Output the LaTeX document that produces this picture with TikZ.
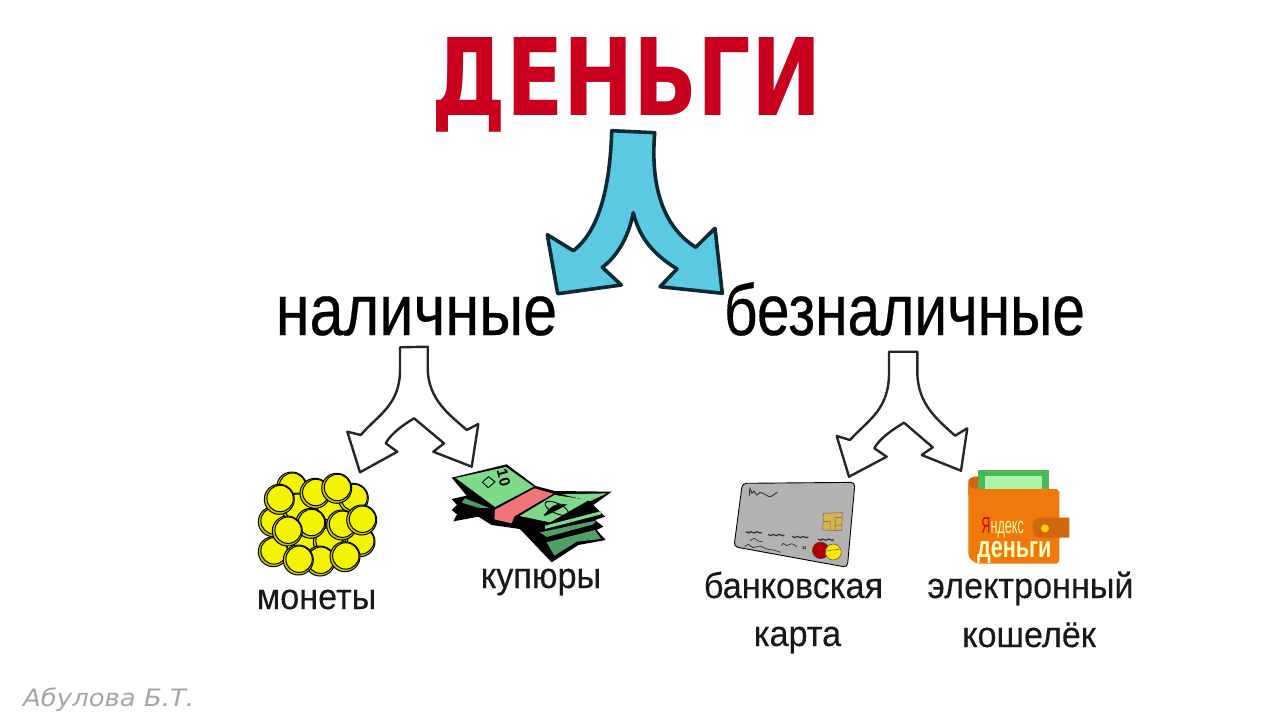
\documentclass[tikz,border=0pt]{standalone}
\usepackage{fontspec}
\setmainfont{Liberation Sans}
\newfontfamily\authorfont{DejaVu Sans}
\newfontfamily\titlefont{DejaVu Sans Bold}
\newfontfamily\wordfont[FakeBold=0.4]{Liberation Sans}
\newfontfamily\smallwordfont[FakeBold=0.2]{Liberation Sans}
\definecolor{titlered}{HTML}{C8001E}
\definecolor{arrowblue}{HTML}{5CC9E3}
\definecolor{arrowdark}{HTML}{0C2A33}
\definecolor{coinyellow}{HTML}{F4F400}
\definecolor{coinedge}{HTML}{C9C900}
\definecolor{billgreen}{HTML}{7FD98A}
\definecolor{billdark}{HTML}{4F9F66}
\definecolor{bandpink}{HTML}{F0747A}
\definecolor{cardgray}{HTML}{B4B2B1}
\definecolor{chipgold}{HTML}{D8B44E}
\definecolor{walletorange}{HTML}{F0790C}
\definecolor{tabbrown}{HTML}{D0660E}
\definecolor{notegreen}{HTML}{4CB85A}
\definecolor{notelight}{HTML}{AAF5AA}
\tikzset{
  bigword/.style={anchor=base,inner sep=0pt,font=\wordfont\fontsize{72}{72}\selectfont,text=black},
  smallword/.style={anchor=base,inner sep=0pt,font=\smallwordfont\fontsize{36}{36}\selectfont,text=black!90},
  plainarrow/.style={draw=black!85,fill=white,line width=2.4pt,line join=round},
  coin/.style={draw=black,line width=1pt},
  scribble/.style={draw=black!80,line width=0.7pt}
}
\newcommand{\coinat}[2]{%
  \draw[coin,fill=coinedge] (#1,#2) circle (15);
  \draw[coin,fill=coinyellow] (#1+0.8,#2-0.8) circle (13.2);
}
\begin{document}
\begin{tikzpicture}[x=1pt,y=-1pt]
  \useasboundingbox[fill=white] (0,0) rectangle (1280,720);
  % words
  \node[inner sep=0pt,anchor=base,text=titlered,font=\titlefont\fontsize{107}{107}\selectfont,xscale=0.785] (title) at (626.5,115) {ДЕНЬГИ};
  \node[bigword,xscale=0.85] (cash) at (416.5,335) {наличные};
  \node[bigword,xscale=0.815] (noncash) at (904.5,335) {безналичные};
  \node[smallword,xscale=0.95] (coins) at (316.5,609) {монеты};
  \node[smallword,xscale=0.95] (notes) at (541,588) {купюры};
  \node[smallword,xscale=0.95] (bankcard) at (793.5,598) {банковская};
  \node[smallword,xscale=0.95] (cardtwo) at (797.5,646) {карта};
  \node[smallword,xscale=0.95] (wallettext) at (1030.5,598) {электронный};
  \node[smallword,xscale=0.95] (wallettwo) at (1029,647) {кошелёк};
  \node[inner sep=0pt,anchor=base west,text=black!35,font=\authorfont\itshape\fontsize{24}{24}\selectfont,xscale=1.08] (author) at (23,706) {Абулова Б.Т.};

  % arrows
  \draw[draw=arrowdark,fill=arrowblue,line width=3.6pt,line join=round] (611.7,130.7) -- (654.7,132.7)
    .. controls (650,190) and (665,228) .. (695.7,247.3) -- (715,228.3) -- (722.3,293.3) -- (660,286.7) -- (677,269)
    .. controls (655,255) and (640,240) .. (633.3,212.7) .. controls (628,240) and (615,258) .. (602.3,267.3)
    -- (621.3,285) -- (557.7,293.7) -- (547.3,234.7) -- (573.3,250.7) .. controls (598,232) and (610,190) .. cycle;
  \draw[plainarrow] (400,347.3) -- (427.7,346.7) -- (427.7,368) .. controls (428,400) and (450,415) .. (466.7,430)
    -- (478.3,424) -- (471.7,466.7) -- (433.3,451.7) -- (444,443.3) -- (414,418.3)
    .. controls (405,424) and (392,432) .. (385.7,443.3) -- (397.3,451.7) -- (360,472.3) -- (347.3,431.7) -- (360.7,435)
    .. controls (378,415) and (400,405) .. (400,370) -- cycle;
  \draw[plainarrow] (889,351.7) -- (917.3,351.7) -- (917.3,373) .. controls (918,405) and (938,420) .. (955,435.7)
    -- (967.3,428.3) -- (961,470.7) -- (921.7,455) -- (932.7,447.3) -- (904,422.7)
    .. controls (892,430) and (880,438) .. (874.3,448.3) -- (886.7,456.7) -- (849,476.7) -- (836.7,436) -- (850,440)
    .. controls (868,420) and (889,410) .. (889,373) -- cycle;

  % coins
  \foreach \cx/\cy in {291.7/487,273.3/521.7,330/508,296.7/508,353.3/498.3,315/493.3,279.3/499.3,336.7/488.3,
      360/541.7,273.3/551.7,306.7/543,328.3/541.7,310.7/523.3,341.7/525,361.7/520,287.3/531,320/561,298.3/560,345/556.7}
    {\coinat{\cx}{\cy}}

  % banknotes
  \begin{scope}[shift={(445,455)},scale=1/3]
    \fill[black] (20,68) -- (185,28) -- (272,93) -- (330,108) -- (500,110) -- (445,150) -- (480,185) -- (450,195)
      -- (475,215) -- (455,225) -- (482,255) -- (400,270) -- (320,322) -- (225,222) -- (140,210) -- (100,185)
      -- (25,199) -- (36,178) -- (20,165) -- (36,150) -- (20,132) -- (65,122) -- cycle;
    \fill[billdark] (60,130) -- (110,150) -- (135,160) -- (100,158) -- (50,143) -- cycle;
    \fill[billgreen] (300,212) -- (470,168) -- (468,178) -- (300,222) -- cycle;
    \fill[billdark] (285,232) -- (455,196) -- (445,208) -- (305,246) -- cycle;
    \fill[billdark] (305,262) -- (450,225) -- (468,252) -- (395,260) -- (328,302) -- cycle;
    \fill[billgreen] (32,69) -- (183,36) -- (266,95) -- (150,156) -- cycle;
    \fill[bandpink] (150,164) -- (268,100) -- (325,116) -- (208,184) -- (200,205) -- (148,193) -- cycle;
    \fill[billgreen] (224,183) -- (328,120) -- (432,135) -- (315,202) -- cycle;
    \fill[billgreen] (350,118) -- (486,115) -- (436,138) -- cycle;
    \draw[black,line width=0.9pt,fill=billgreen] (112,82) -- (130,65) -- (150,80) -- (130,98) -- cycle;
    \node[inner sep=0pt,rotate=-75,text=black,font=\fontsize{15}{15}\selectfont\bfseries] (billten) at (176,68) {10};
    \draw[black,line width=0.9pt,rotate around={-25:(335,160)}] (335,160) ellipse (38 and 15);
    \draw[black,line width=1.4pt,fill=black] (300,180) .. controls (320,150) and (345,145) .. (360,150) .. controls (345,158) and (325,170) .. cycle;
  \end{scope}

  % card
  \begin{scope}[shift={(730,475)},scale=1/3]
    \draw[fill=cardgray,draw=black,line width=0.9pt,rounded corners=4pt] (37,25) -- (375,22) -- (352,277) -- (12,215) -- cycle;
    \draw[scribble,line width=0.9pt] plot[smooth] coordinates {(58,62) (60,40) (66,55) (72,48) (80,60) (90,52) (105,58) (120,65) (142,52)};
    \fill[chipgold] (280,115) -- (337,113) -- (335,167) -- (278,165) -- cycle;
    \draw[black!60,line width=0.5pt] (280,115) -- (337,113) -- (335,167) -- (278,165) -- cycle (280,140) -- (300,140) -- (300,165) (337,128) -- (315,128) -- (315,165) (337,150) -- (315,150);
    \foreach \sx/\sy in {48/170,115/178,187/184,264/192}
      \draw[scribble,line width=1.2pt] plot[smooth] coordinates {(\sx,\sy) (\sx+8,\sy+4) (\sx+14,\sy) (\sx+24,\sy+4) (\sx+32,\sy) (\sx+42,\sy+4) (\sx+48,\sy+2)};
    \draw[scribble] plot[smooth] coordinates {(60,197) (72,190) (85,198) (97,200)};
    \draw[scribble] plot[smooth] coordinates {(45,215) (55,208) (70,218) (90,213) (110,222) (130,225) (152,232)};
    \draw[scribble] plot[smooth] coordinates {(155,212) (160,205) (170,212) (185,206) (200,215)};
    \draw[scribble] (218,214) -- (228,222) (228,214) -- (218,222);
    \draw[fill=red!70!black,draw=black!70,line width=0.5pt] (272,226) circle (25);
    \draw[fill=yellow!90!orange,draw=black!70,line width=0.5pt] (310,231) circle (24);
    \draw[black!70,line width=0.5pt] (290,228) -- (330,222);
  \end{scope}

  % wallet
  \begin{scope}[shift={(960,465)},scale=1/3]
    \fill[tabbrown] (25,50) .. controls (25,40) and (35,34) .. (60,34) -- (60,90) -- (25,90) -- cycle;
    \fill[notegreen] (55,15) rectangle (268,80);
    \fill[notelight] (75,33) rectangle (247,80);
    \fill[walletorange] (25,55) .. controls (27,68) and (40,72) .. (55,72) -- (290,72) -- (298,80) -- (298,288) -- (290,296) -- (62,296) .. controls (40,296) and (25,280) .. (25,265) -- cycle;
    \fill[tabbrown] (240,158) -- (328,158) -- (328,218) -- (240,218) .. controls (210,218) and (210,158) .. (240,158) -- cycle;
    \fill[yellow!70!orange] (255,190) circle (12);
    \node[inner sep=0pt,anchor=base,text=yellow!35!white,font=\fontsize{23}{23}\selectfont,xscale=0.55] (yandex) at (128,206) {\textcolor{red!85!black}{Я}ндекс};
    \node[inner sep=0pt,anchor=base,text=yellow!25!white,font=\fontsize{30}{30}\selectfont\bfseries,xscale=0.72] (walletname) at (163,277) {деньги};
  \end{scope}
\end{tikzpicture}
\end{document}
